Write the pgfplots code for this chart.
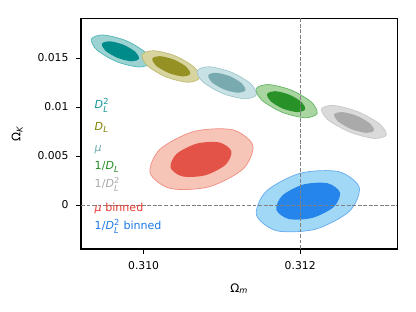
\documentclass[border=0pt]{standalone}
\usepackage{amsmath}
\usepackage{pgfplots}
\pgfplotsset{compat=1.18}
\usepackage{fontspec}
\setmainfont{DejaVu Sans}
\newcommand{\vi}[1]{\text{\itshape #1}}
\definecolor{tealO}{RGB}{156,211,210}
\definecolor{tealE}{RGB}{80,182,182}
\definecolor{tealI}{RGB}{0,139,139}
\definecolor{oliveO}{RGB}{215,212,160}
\definecolor{oliveE}{RGB}{190,185,110}
\definecolor{oliveI}{RGB}{150,145,35}
\definecolor{ltealO}{RGB}{200,225,228}
\definecolor{ltealE}{RGB}{160,200,205}
\definecolor{ltealI}{RGB}{120,170,175}
\definecolor{greenO}{RGB}{168,213,160}
\definecolor{greenE}{RGB}{100,180,100}
\definecolor{greenI}{RGB}{40,145,40}
\definecolor{grayO}{RGB}{218,218,218}
\definecolor{grayE}{RGB}{200,200,200}
\definecolor{grayI}{RGB}{170,170,170}
\definecolor{redO}{RGB}{247,197,183}
\definecolor{redE}{RGB}{240,140,128}
\definecolor{redI}{RGB}{228,83,72}
\definecolor{blueO}{RGB}{160,216,245}
\definecolor{blueE}{RGB}{100,170,240}
\definecolor{blueI}{RGB}{38,133,235}
\definecolor{tealT}{RGB}{20,150,150}
\definecolor{oliveT}{RGB}{128,128,0}
\definecolor{ltealT}{RGB}{110,170,175}
\definecolor{greenT}{RGB}{34,139,34}
\definecolor{grayT}{RGB}{170,170,170}
\definecolor{redT}{RGB}{228,60,50}
\definecolor{blueT}{RGB}{30,120,230}
\begin{document}
\begin{tikzpicture}
\useasboundingbox (-58.32bp,-45.36bp) rectangle (241.2bp,179.28bp);
\begin{axis}[
  width=227.7bp, height=166.1bp, scale only axis,
  xmin=0.3092, xmax=0.31324, ymin=-0.0045, ymax=0.01905,
  xtick={0.310,0.312}, xticklabels={0.310,0.312},
  ytick={0,0.005,0.01,0.015}, yticklabels={0,0.005,0.01,0.015},
  scaled ticks=false,
  tick pos=left, tick align=outside, major tick length=3.5bp,
  every tick/.style={black, line width=0.6pt},
  tick label style={font=\fontsize{7.8}{9}\selectfont},
  xticklabel shift=2bp, yticklabel shift=2bp,
  label style={font=\fontsize{8.5}{10}\selectfont},
  xlabel shift=3bp, ylabel shift=4bp,
  axis line style={line width=0.8pt},
  xlabel={$\text{Ω}_{\vi{m}}$},
  ylabel={$\text{Ω}_{\vi{K}}$},
]
% D_L^2
\addplot[fill=tealO, draw=tealE, line width=0.5pt, smooth cycle] coordinates {
(0.310088,0.014491) (0.309938,0.014080) (0.309655,0.014626) (0.309404,0.015810)
(0.309332,0.016937) (0.309481,0.017348) (0.309765,0.016802) (0.310016,0.015618)};
\addplot[fill=tealI, draw=none, smooth cycle] coordinates {
(0.309940,0.014919) (0.309846,0.014661) (0.309669,0.015002) (0.309512,0.015742)
(0.309467,0.016448) (0.309561,0.016706) (0.309738,0.016365) (0.309895,0.015625)};
% D_L
\addplot[fill=oliveO, draw=oliveE, line width=0.5pt, smooth cycle] coordinates {
(0.310713,0.012948) (0.310567,0.012525) (0.310292,0.013045) (0.310049,0.014201)
(0.309980,0.015317) (0.310126,0.015740) (0.310401,0.015221) (0.310644,0.014064)};
\addplot[fill=oliveI, draw=none, smooth cycle] coordinates {
(0.310595,0.013369) (0.310500,0.013117) (0.310319,0.013472) (0.310157,0.014225)
(0.310111,0.014937) (0.310206,0.015189) (0.310387,0.014834) (0.310548,0.014080)};
% mu
\addplot[fill=ltealO, draw=ltealE, line width=0.5pt, smooth cycle] coordinates {
(0.311440,0.011246) (0.311291,0.010835) (0.311008,0.011381) (0.310756,0.012565)
(0.310684,0.013693) (0.310834,0.014104) (0.311117,0.013557) (0.311368,0.012374)};
\addplot[fill=ltealI, draw=none, smooth cycle] coordinates {
(0.311299,0.011705) (0.311205,0.011447) (0.311028,0.011788) (0.310871,0.012528)
(0.310826,0.013234) (0.310920,0.013492) (0.311097,0.013151) (0.311254,0.012410)};
% 1/D_L
\addplot[fill=greenO, draw=greenE, line width=0.5pt, smooth cycle] coordinates {
(0.312217,0.009330) (0.312062,0.008897) (0.311770,0.009456) (0.311511,0.010681)
(0.311437,0.011853) (0.311592,0.012287) (0.311884,0.011727) (0.312143,0.010503)};
\addplot[fill=greenI, draw=none, smooth cycle] coordinates {
(0.312063,0.009757) (0.311966,0.009472) (0.311784,0.009812) (0.311623,0.010580)
(0.311578,0.011324) (0.311675,0.011610) (0.311857,0.011269) (0.312018,0.010502)};
% 1/D_L^2
\addplot[fill=grayO, draw=grayE, line width=0.5pt, smooth cycle] coordinates {
(0.313100,0.007131) (0.312942,0.006787) (0.312634,0.007429) (0.312357,0.008679)
(0.312273,0.009807) (0.312432,0.010151) (0.312739,0.009510) (0.313016,0.008259)};
\addplot[fill=grayI, draw=none, smooth cycle] coordinates {
(0.312942,0.007596) (0.312843,0.007356) (0.312654,0.007737) (0.312484,0.008518)
(0.312434,0.009240) (0.312533,0.009481) (0.312722,0.009100) (0.312892,0.008319)};
% mu binned
\addplot[fill=redO, draw=redE, line width=0.5pt, smooth cycle] coordinates {
(0.311395,0.006081) (0.311270,0.003669) (0.310834,0.001845) (0.310342,0.001678)
(0.310083,0.003266) (0.310208,0.005678) (0.310645,0.007502) (0.311136,0.007669)};
\addplot[fill=redI, draw=none, smooth cycle] coordinates {
(0.311121,0.005477) (0.311046,0.004090) (0.310787,0.003026) (0.310496,0.002910)
(0.310344,0.003808) (0.310419,0.005196) (0.310679,0.006259) (0.310969,0.006376)};
% 1/D_L^2 binned
\addplot[fill=blueO, draw=blueE, line width=0.5pt, smooth cycle] coordinates {
(0.312754,0.001785) (0.312629,-0.000648) (0.312194,-0.002481) (0.311702,-0.002639)
(0.311442,-0.001030) (0.311567,0.001403) (0.312002,0.003236) (0.312494,0.003394)};
\addplot[fill=blueI, draw=none, smooth cycle] coordinates {
(0.312509,0.001262) (0.312430,-0.000200) (0.312159,-0.001317) (0.311854,-0.001436)
(0.311695,-0.000486) (0.311774,0.000975) (0.312045,0.002093) (0.312350,0.002211)};
% reference lines
\addplot[gray, line width=0.6pt, dash pattern=on 2.8pt off 1.2pt] coordinates {(0.312,-0.0045) (0.312,0.01905)};
\addplot[gray, line width=0.6pt, dash pattern=on 2.8pt off 1.2pt] coordinates {(0.3092,0) (0.31324,0)};
% legend texts
\begin{scope}[every node/.style={anchor=base west, inner sep=0pt, font=\fontsize{8}{9}\selectfont}]
\node[text=tealT] at (axis cs:0.309372,0.009796) {$\vi{D}_{\vi{L}}^{\text{2}}$};
\node[text=oliveT] at (axis cs:0.309372,0.007582) {$\vi{D}_{\vi{L}}$};
\node[text=ltealT] at (axis cs:0.309372,0.005408) {\itshape μ};
\node[text=greenT] at (axis cs:0.309372,0.003571) {1/$\vi{D}_{\vi{L}}$};
\node[text=grayT] at (axis cs:0.309372,0.001735) {1/$\vi{D}_{\vi{L}}^{\text{2}}$};
\node[text=redT] at (axis cs:0.309372,-0.000684) {{\itshape μ} binned};
\node[text=blueT] at (axis cs:0.309372,-0.002551) {1/$\vi{D}_{\vi{L}}^{\text{2}}$ binned};
\end{scope}
\end{axis}
\end{tikzpicture}
\end{document}
